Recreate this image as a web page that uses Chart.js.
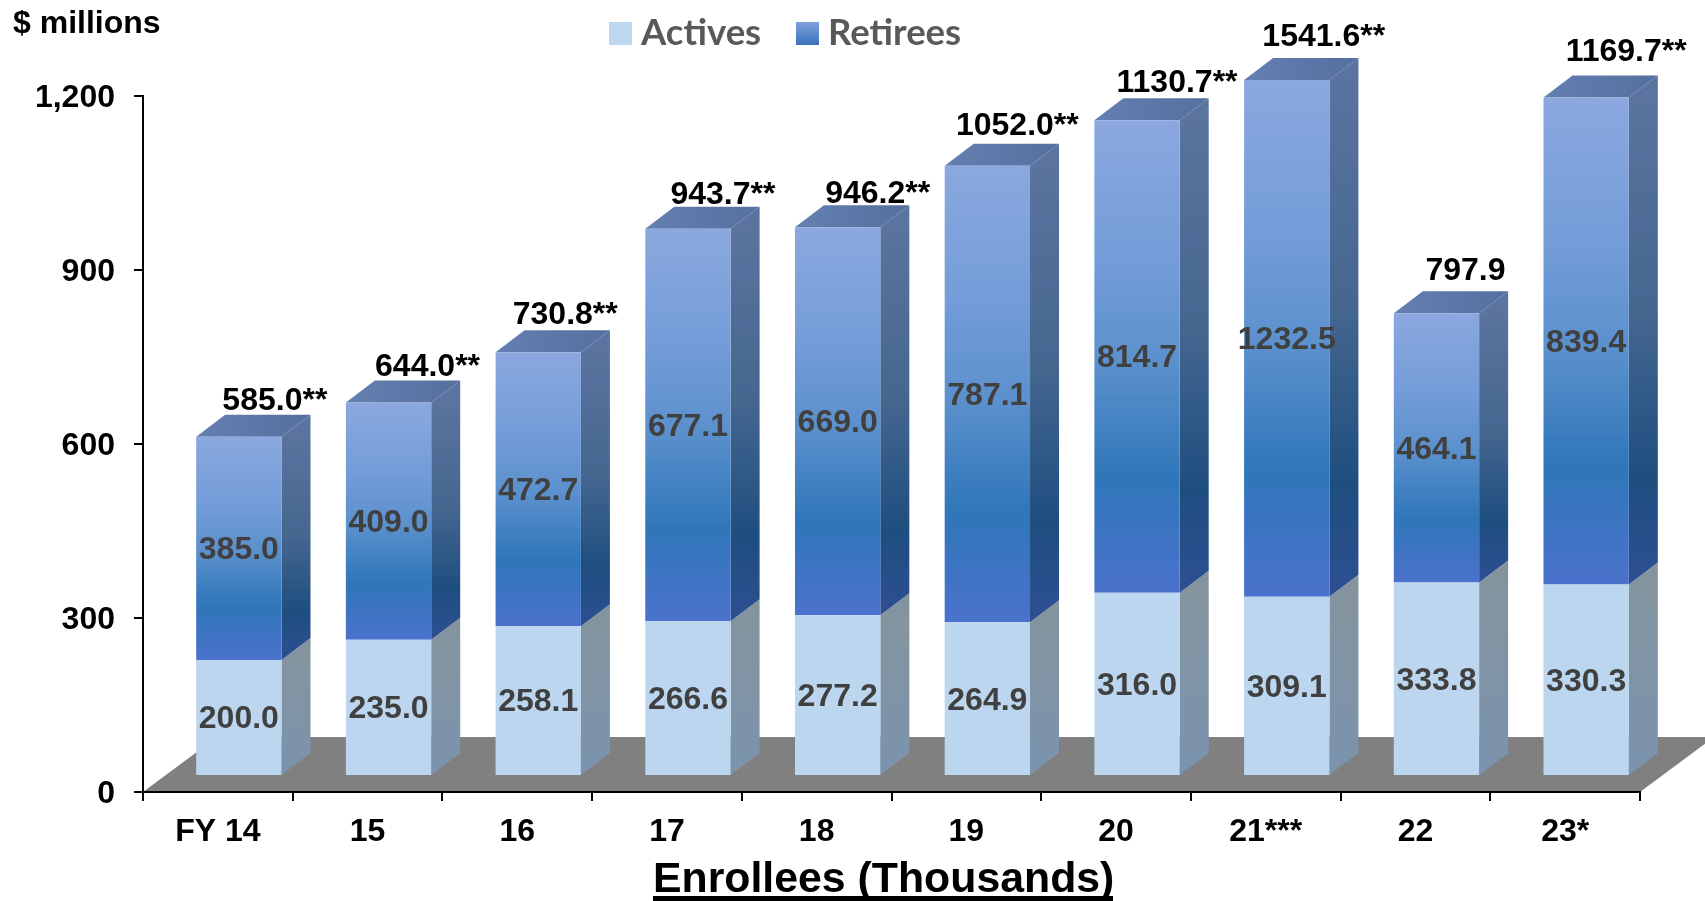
<!DOCTYPE html>
<html>
<head>
<meta charset="utf-8">
<title>Enrollees (Thousands)</title>
<script src="https://cdn.jsdelivr.net/npm/chart.js@4"></script>
<style>
  html, body { margin: 0; padding: 0; background: #fff; }
  canvas { display: block; }
</style>
</head>
<body>
<canvas id="enrolleesChart" width="1705" height="901"></canvas>
<script>
const categories = ["FY 14", "15", "16", "17", "18", "19", "20", "21***", "22", "23*"];
const actives = [200.0, 235.0, 258.1, 266.6, 277.2, 264.9, 316.0, 309.1, 333.8, 330.3];
const retirees = [385.0, 409.0, 472.7, 677.1, 669.0, 787.1, 814.7, 1232.5, 464.1, 839.4];
const totalLabels = ["585.0**", "644.0**", "730.8**", "943.7**", "946.2**", "1052.0**", "1130.7**", "1541.6**", "797.9", "1169.7**"];
const yTicksMax = 1200;
const yTicksStep = 300;

// the totals were placed by hand in the original, so they sit off centre
const totalShiftX = [36, 39, 27, 35, 40, 30, 40, 37, 29, 40];
const totalShiftY = [-36, -35, -37, -33, -33, -40, -37, -43, -42, -45];

// front plane of the bars sits up and right of the axis plane
const frontX = 21, frontY = -16;
const sideX = 29, sideY = 22;
const floorX = 74, floorY = 55;

const boldFont = "bold 32px 'Liberation Sans'";

function verticalGradient(ctx, top, bottom, stops) {
  const g = ctx.createLinearGradient(0, top, 0, bottom);
  stops.forEach(function (s) { g.addColorStop(s[0], s[1]); });
  return g;
}

const retireeFront = [[0, "#8ba8df"], [0.3, "#739cd8"], [0.52, "#5a90cc"], [0.76, "#2f76b9"], [1, "#4b72cc"]];
const retireeSide = [[0, "#5a739f"], [0.45, "#44668f"], [0.78, "#1e4e80"], [1, "#2e4f92"]];
const activeSide = [[0, "#84949f"], [1, "#7b93ae"]];

const bars3d = {
  id: "bars3d",
  beforeDraw(chart) {
    // floor
    const ctx = chart.ctx, x = chart.scales.x, y = chart.scales.y;
    const y0 = y.getPixelForValue(0);
    ctx.save();
    ctx.fillStyle = "#808080";
    ctx.beginPath();
    ctx.moveTo(x.left, y0);
    ctx.lineTo(x.right, y0);
    ctx.lineTo(x.right + floorX, y0 - floorY);
    ctx.lineTo(x.left + floorX, y0 - floorY);
    ctx.closePath();
    ctx.fill();
    ctx.restore();
  },
  beforeDatasetsDraw(chart) {
    const ctx = chart.ctx, area = chart.chartArea;
    ctx.save();
    ctx.translate(frontX, frontY);
    // side faces and top cap, the library draws the fronts after this
    [0, 1].forEach(function (d) {
      chart.getDatasetMeta(d).data.forEach(function (bar) {
        const right = bar.x + bar.width / 2;
        const left = bar.x - bar.width / 2;
        const top = Math.max(bar.y, area.top);
        ctx.fillStyle = verticalGradient(ctx, top, bar.base, d === 0 ? activeSide : retireeSide);
        ctx.beginPath();
        ctx.moveTo(right, top);
        ctx.lineTo(right + sideX, top - sideY);
        ctx.lineTo(right + sideX, bar.base - sideY);
        ctx.lineTo(right, bar.base);
        ctx.closePath();
        ctx.fill();
        if (d === 1) {
          const cap = ctx.createLinearGradient(left, 0, right + sideX, 0);
          cap.addColorStop(0, "#6480b0");
          cap.addColorStop(1, "#556f9f");
          ctx.fillStyle = cap;
          ctx.beginPath();
          ctx.moveTo(left, top);
          ctx.lineTo(left + sideX, top - sideY);
          ctx.lineTo(right + sideX, top - sideY);
          ctx.lineTo(right, top);
          ctx.closePath();
          ctx.fill();
        }
      });
    });
  },
  afterDatasetsDraw(chart) {
    const ctx = chart.ctx, area = chart.chartArea;
    ctx.font = boldFont;
    ctx.textAlign = "center";
    ctx.textBaseline = "middle";
    // values inside the bars
    ctx.fillStyle = "#404040";
    [0, 1].forEach(function (d) {
      const values = chart.data.datasets[d].data;
      chart.getDatasetMeta(d).data.forEach(function (bar, i) {
        const top = Math.max(bar.y, area.top);
        ctx.fillText(values[i].toFixed(1), bar.x, (top + bar.base) / 2 + 2);
      });
    });
    // totals above the bars
    ctx.fillStyle = "#000";
    chart.getDatasetMeta(1).data.forEach(function (bar, i) {
      const top = Math.max(bar.y, area.top);
      ctx.fillText(totalLabels[i], bar.x + totalShiftX[i], top + totalShiftY[i]);
    });
    ctx.restore();
  },
  afterDraw(chart) {
    const ctx = chart.ctx;
    ctx.save();
    ctx.textBaseline = "alphabetic";
    ctx.textAlign = "left";
    ctx.fillStyle = "#000";
    ctx.font = boldFont;
    ctx.fillText("$ millions", 13, 33);

    // x axis caption with underline
    ctx.font = "bold 42.8px 'Liberation Sans'";
    ctx.fillText("Enrollees (Thousands)", 653, 892);
    ctx.fillRect(653, 896, 460, 5);

    // legend
    ctx.fillStyle = "#bdd7ee";
    ctx.fillRect(609, 22, 23, 23);
    ctx.fillStyle = verticalGradient(ctx, 22, 45, [[0, "#82a2da"], [1, "#3a72bd"]]);
    ctx.fillRect(796, 22, 23, 23);
    ctx.fillStyle = "#595959";
    ctx.font = "bold 36.5px Lato";
    ctx.fillText("Actives", 641, 45);
    ctx.fillText("Retirees", 828, 45);
    ctx.restore();
  },
};

new Chart(document.getElementById("enrolleesChart"), {
  type: "bar",
  data: {
    labels: categories,
    datasets: [
      {
        label: "Actives",
        data: actives,
        backgroundColor: "#bbd6ee",
        stack: "total",
      },
      {
        label: "Retirees",
        data: retirees,
        stack: "total",
        backgroundColor: function (c) {
          const y = c.chart.scales.y;
          const i = c.dataIndex;
          const bottom = y ? y.getPixelForValue(actives[i]) : NaN;
          // scales have no pixels yet on the first pass through here
          if (!Number.isFinite(bottom)) return "#4b72cc";
          const top = Math.max(y.getPixelForValue(actives[i] + retirees[i]), y.top);
          return verticalGradient(c.chart.ctx, top, bottom, retireeFront);
        },
      },
    ],
  },
  options: {
    responsive: false,
    animation: false,
    layout: { padding: { top: 96, right: 65, left: 0, bottom: 0 } },
    datasets: { bar: { barPercentage: 0.57, categoryPercentage: 1 } },
    scales: {
      x: {
        stacked: true,
        afterFit: function (s) { s.height = 109; },
        border: { color: "#000", width: 2 },
        grid: { color: "#000", lineWidth: 2, tickLength: 9, drawOnChartArea: false },
        ticks: {
          color: "#000",
          font: { family: "Liberation Sans", size: 32, weight: "bold" },
          padding: 12,
          maxRotation: 0,
          autoSkip: false,
        },
      },
      y: {
        stacked: true,
        min: 0,
        max: yTicksMax,
        afterFit: function (s) { s.width = 143; },
        border: { color: "#000", width: 2 },
        grid: { color: "#000", lineWidth: 2, tickLength: 9, drawOnChartArea: false },
        ticks: {
          stepSize: yTicksStep,
          color: "#000",
          font: { family: "Liberation Sans", size: 32, weight: "bold" },
          padding: 19,
          labelOffset: 2,
        },
      },
    },
    plugins: {
      legend: { display: false },
      tooltip: { enabled: false },
    },
  },
  plugins: [bars3d],
});
</script>
</body>
</html>
